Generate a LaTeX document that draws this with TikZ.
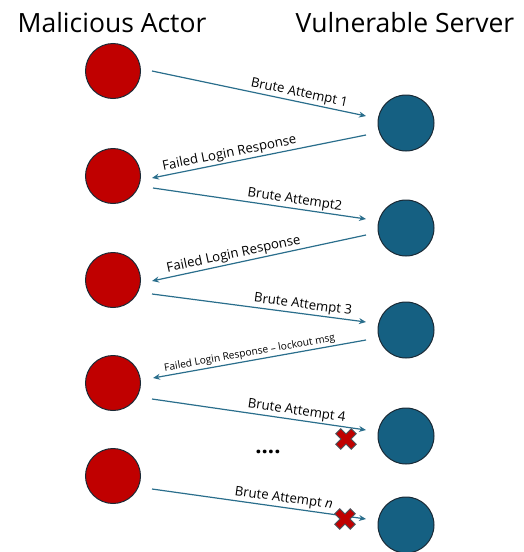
\documentclass[tikz,border=0pt]{standalone}
\usepackage{fontspec}
\setmainfont{Open Sans}
\usetikzlibrary{arrows.meta}
\definecolor{actred}{HTML}{C00000}
\definecolor{srvblue}{HTML}{156082}
\definecolor{arrblue}{HTML}{2A6E8C}
\definecolor{edge}{HTML}{1A2A36}
\tikzset{
  actor/.style={circle, fill=actred, draw=edge, line width=1pt, minimum size=55pt, inner sep=0pt},
  server/.style={circle, fill=srvblue, draw=edge, line width=1pt, minimum size=56pt, inner sep=0pt},
  msg/.style={draw=arrblue, line width=1.2pt, -{Stealth[length=7pt,width=6pt]}},
  lbl/.style={font=\fontsize{13.2}{15}\selectfont, sloped, above, inner sep=1.5pt},
  slbl/.style={font=\fontsize{10.2}{12}\selectfont, sloped, above, inner sep=1.5pt},
  title/.style={font=\fontsize{26.5}{30}\selectfont, anchor=base},
  xmark/.pic={\filldraw[fill=actred, draw=edge!80, line width=0.9pt, rotate=45]
    (11,3.6)--(3.6,3.6)--(3.6,11)--(-3.6,11)--(-3.6,3.6)--(-11,3.6)--(-11,-3.6)--(-3.6,-3.6)--(-3.6,-11)--(3.6,-11)--(3.6,-3.6)--(11,-3.6)--cycle;}
}
\begin{document}
\begin{tikzpicture}[x=1pt,y=-1pt]
\useasboundingbox (0,0) rectangle (523,552);
\node[title] (t1) at (112,32) {Malicious Actor};
\node[title] (t2) at (405,32) {Vulnerable Server};

\foreach \i/\y in {1/71,2/176,3/280,4/383,5/476} \node[actor] (a\i) at (113,\y) {};
\foreach \i/\y in {1/123,2/228,3/330,4/436,5/525} \node[server] (s\i) at (406,\y) {};

% endpoints
\coordinate (p1a) at (152,71);  \coordinate (p1b) at (366,116);
\coordinate (p2a) at (366,135); \coordinate (p2b) at (152,178);
\coordinate (p3a) at (153,188); \coordinate (p3b) at (366,219);
\coordinate (p4a) at (366,235); \coordinate (p4b) at (152,281);
\coordinate (p5a) at (152,294); \coordinate (p5b) at (366,322);
\coordinate (p6a) at (366,340); \coordinate (p6b) at (153,378);
\coordinate (p7a) at (152,399); \coordinate (p7b) at (366,430);
\coordinate (p8a) at (152,489); \coordinate (p8b) at (366,519);

\draw[msg] (p1a) -- node[lbl, pos=0.68] {Brute Attempt 1} (p1b);
\draw[msg] (p2a) -- node[lbl, pos=0.63] {Failed Login Response} (p2b);
\draw[msg] (p3a) -- node[lbl, pos=0.66] {Brute Attempt2} (p3b);
\draw[msg] (p4a) -- node[lbl, pos=0.61] {Failed Login Response} (p4b);
\draw[msg] (p5a) -- node[lbl, pos=0.70] {Brute Attempt 3} (p5b);
\draw[msg] (p6a) -- node[slbl, pos=0.54] {Failed Login Response – lockout msg} (p6b);
\draw[msg] (p7a) -- node[lbl, pos=0.67] {Brute Attempt 4} (p7b);
\draw[msg] (p8a) -- node[lbl, pos=0.61] {Brute Attempt \textit{n}} (p8b);

\pic at (346,439) {xmark};
\pic at (345,519) {xmark};

\node[font=\fontsize{22}{24}\selectfont\bfseries] (dots) at (268,452) {....};
\end{tikzpicture}
\end{document}
